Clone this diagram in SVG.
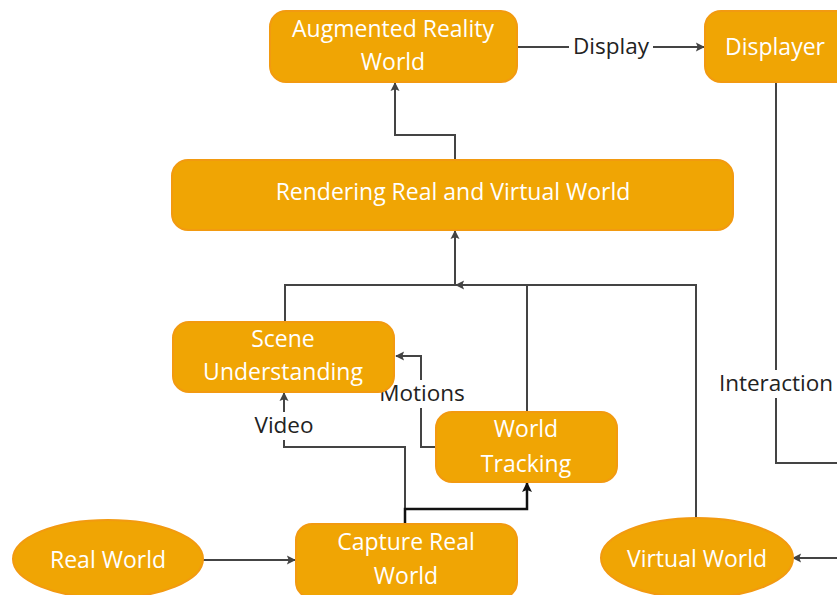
<svg xmlns="http://www.w3.org/2000/svg" width="837" height="595" viewBox="0 0 837 595">
<defs>
<style>
.n{fill:#F0A504;stroke:#F29A10;stroke-width:2}
.t{font-family:"Open Sans",Lato,sans-serif;font-size:23px;fill:#fff;text-anchor:middle}
.c{fill:none;stroke:#444;stroke-width:2}
.k{fill:none;stroke:#111;stroke-width:2.5}
.l{font-family:"Open Sans",Lato,sans-serif;font-size:22.5px;fill:#222;text-anchor:middle}
.bg{fill:#fff}
</style>
<marker id="a" viewBox="0 0 10 10" refX="9" refY="5" markerWidth="9" markerHeight="9" orient="auto" markerUnits="userSpaceOnUse" overflow="visible">
<path d="M0,0 L10,5 L0,10 L2,5 z" fill="#444"/>
</marker>
<marker id="ak" viewBox="0 0 10 10" refX="9" refY="5" markerWidth="10" markerHeight="10" orient="auto" markerUnits="userSpaceOnUse">
<path d="M0,0 L10,5 L0,10 L2,5 z" fill="#111"/>
</marker>
</defs>
<g id="connectors">
<path class="c" d="M517,47 H704" marker-end="url(#a)"/>
<rect class="bg" x="569" y="33" width="84" height="28"/>
<text class="l" x="611" y="54">Display</text>
<path class="c" d="M455,160 V135 H395 V83" marker-end="url(#a)"/>
<path class="c" d="M285,322 V285 H455 V231" marker-end="url(#a)"/>
<path class="c" d="M696,518 V285 H456" marker-end="url(#a)"/>
<path class="c" d="M527,412 V285"/>
<path class="c" d="M435,447 H421 V356 H396" marker-end="url(#a)"/>
<rect class="bg" x="374" y="380" width="96" height="28"/>
<text class="l" x="422" y="401">Motions</text>
<path class="c" d="M405,524 V447 H284 V393" marker-end="url(#a)"/>
<rect class="bg" x="246" y="412" width="76" height="28"/>
<text class="l" x="284" y="433">Video</text>
<path class="k" d="M405,524 V509 H527 V483" marker-end="url(#ak)"/>
<path class="c" d="M203,560 H295" marker-end="url(#a)"/>
<path class="c" d="M837,558 H793" marker-end="url(#a)"/>
<path class="c" d="M776,82 V463 H837"/>
<rect class="bg" x="714" y="370" width="123" height="28"/>
<text class="l" x="776" y="391">Interaction</text>
</g>
<g id="ar-world">
<rect class="n" x="270" y="11" width="247" height="71" rx="16"/>
<text class="t" x="393" y="37">Augmented Reality</text>
<text class="t" x="393" y="70">World</text>
</g>
<g id="displayer">
<rect class="n" x="705" y="11" width="150" height="71" rx="16"/>
<text class="t" x="775" y="55">Displayer</text>
</g>
<g id="rendering">
<rect class="n" x="172" y="160" width="561" height="70" rx="16"/>
<text class="t" x="453" y="200">Rendering Real and Virtual World</text>
</g>
<g id="scene">
<rect class="n" x="173" y="322" width="221" height="70" rx="16"/>
<text class="t" x="283" y="347">Scene</text>
<text class="t" x="283" y="380">Understanding</text>
</g>
<g id="tracking">
<rect class="n" x="436" y="412" width="181" height="70" rx="16"/>
<text class="t" x="526" y="437">World</text>
<text class="t" x="526" y="472">Tracking</text>
</g>
<g id="capture">
<rect class="n" x="296" y="524" width="221" height="74" rx="16"/>
<text class="t" x="406" y="550">Capture Real</text>
<text class="t" x="406" y="584">World</text>
</g>
<g id="real-world">
<ellipse class="n" cx="108" cy="559" rx="95" ry="39"/>
<text class="t" x="108" y="568">Real World</text>
</g>
<g id="virtual-world">
<ellipse class="n" cx="697" cy="558" rx="96" ry="40"/>
<text class="t" x="697" y="567">Virtual World</text>
</g>
</svg>
